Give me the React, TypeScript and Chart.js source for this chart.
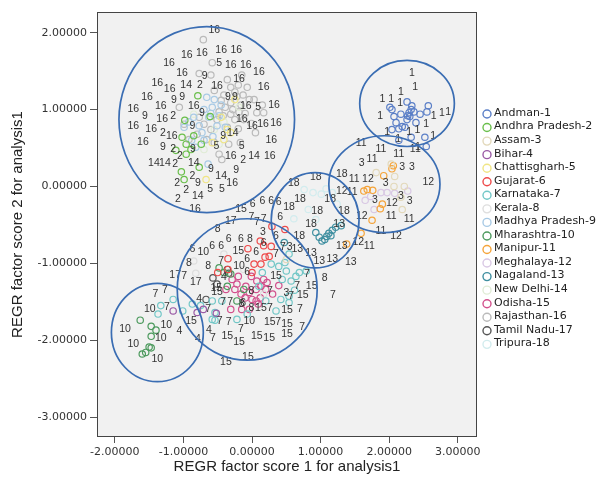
import React, { useEffect, useRef } from "react";
import { Chart, registerables } from "chart.js";

Chart.register(...registerables);

type P = [number, number];

const stateNames = [
  "Andman-1", "Andhra Pradesh-2", "Assam-3", "Bihar-4", "Chattisgharh-5", "Gujarat-6",
  "Karnataka-7", "Kerala-8", "Madhya Pradesh-9", "Mharashtra-10", "Manipur-11", "Meghalaya-12",
  "Nagaland-13", "New Delhi-14", "Odisha-15", "Rajasthan-16", "Tamil Nadu-17", "Tripura-18",
];
const stateCodes = ["1", "2", "3", "4", "5", "6", "7", "8", "9", "10", "11", "12", "13", "14", "15", "16", "17", "18"];
const stateColors = [
  "#5b7fc7", "#6abf4b", "#e3d9bb", "#9a5aa5", "#f0e585", "#ee4a4a",
  "#72c7c7", "#dedede", "#a8cae5", "#4d9a5e", "#f5a43a", "#d9c8e4",
  "#3f8fa0", "#e0ecd6", "#d2508c", "#bababa", "#555555", "#d2ecee",
];

const andmanPts: P[] = [[2.01, 1.03], [2.04, 1.0], [2.26, 1.1], [2.33, 1.05], [2.57, 1.05], [2.55, 0.97], [2.45, 0.94], [2.29, 0.96], [2.3, 0.91], [2.17, 0.94], [2.07, 0.91], [2.1, 0.83], [2.19, 0.78], [2.23, 0.77], [2.04, 0.74], [2.14, 0.75], [2.39, 0.83], [2.32, 0.64], [2.14, 0.6], [2.52, 0.64], [2.26, 0.87], [2.36, 0.97], [2.54, 0.52], [2.32, 1.0], [2.27, 0.92]];
const andmanLbl: P[] = [[2.33, 1.48], [2.17, 1.23], [2.38, 1.29], [1.9, 1.14], [2.03, 1.14], [2.16, 1.08], [1.87, 0.91], [2.65, 0.92], [2.77, 0.95], [2.86, 0.97], [2.54, 0.81], [2.41, 0.73], [2.29, 0.71], [2.64, 0.65], [1.97, 0.71], [2.13, 0.61], [2.42, 0.51]];

const andhraPts: P[] = [[-0.79, 1.18], [-0.98, 0.86], [-1.02, 0.64], [-0.96, 0.55], [-1.11, 0.47], [-0.89, 0.48], [-0.96, 0.42], [-1.03, 0.19], [-0.99, 0.09], [-0.77, 0.25], [-0.85, 0.66], [-0.74, 0.55], [-0.61, 0.91]];
const andhraLbl: P[] = [[-0.76, 1.32], [-1.15, 0.91], [-1.3, 0.7], [-1.15, 0.49], [-1.05, 0.39], [-1.12, 0.29], [-0.13, 0.34], [-0.87, 0.14], [-1.09, 0.05], [-0.96, -0.05], [-1.08, -0.17]];

const assamPts: P[] = [[2.03, 0.29], [1.81, 0.18], [2.08, 0.13], [2.07, 0.0], [2.22, 0.0], [2.19, -0.3], [2.17, -0.14], [0.5, -0.95]];
const assamLbl: P[] = [[1.6, 0.31], [2.19, 0.25], [2.33, 0.25], [1.95, 0.05], [1.79, -0.18], [2.17, -0.13], [2.3, -0.19], [0.16, -0.6], [0.55, -0.79], [0.5, -1.39]];

const biharPts: P[] = [[-1.15, -1.62], [-0.8, -1.64], [-0.52, -1.65], [-0.71, -1.6]];
const biharLbl: P[] = [[-0.41, -1.18], [-0.77, -1.47], [-1.06, -1.88], [-0.63, -1.87], [-0.79, -1.99]];

const chattisgarhPts: P[] = [[-0.67, 0.09], [-0.45, 0.9], [-0.36, 0.74], [-0.41, 0.61], [-0.58, 0.57], [-0.25, 1.13], [-0.31, 0.7]];
const chattisgarhLbl: P[] = [[-0.48, 1.6], [0.09, 1.03], [-0.52, 0.52], [-0.15, 0.53], [-0.61, -0.04], [-0.44, -0.04]];

const gujaratPts: P[] = [[0.29, -0.52], [0.48, -0.56], [0.12, -0.71], [0.17, -0.77], [0.28, -0.78], [-0.06, -0.81], [0.25, -0.91], [0.19, -0.92], [-0.35, -0.94], [0.03, -1.01], [0.13, -1.01], [0.0, -1.12], [-0.5, -1.12], [-0.35, -1.08]];
const gujaratLbl: P[] = [[0.01, -0.23], [0.15, -0.19], [0.28, -0.19], [0.39, -0.21], [0.41, -0.4], [0.35, -0.64], [-0.34, -0.68], [-0.16, -0.68], [0.17, -0.74], [-0.58, -0.78], [-0.45, -0.77], [-0.07, -0.94], [0.06, -0.86], [-0.07, -1.12], [-0.13, -1.52], [-0.87, -0.82]];

const karnatakaPts: P[] = [[0.28, -1.01], [0.39, -1.04], [0.5, -1.1], [0.15, -1.12], [0.44, -1.21], [0.57, -1.23], [0.64, -1.17], [0.69, -1.12], [0.79, -1.1], [0.54, -1.43], [0.54, -1.51], [0.42, -1.47], [0.35, -1.62], [0.2, -1.49], [-0.44, -1.49], [-0.54, -1.64], [-0.58, -1.73], [-0.22, -1.73], [-0.07, -1.66], [-1.33, -1.55], [-1.37, -1.66], [-1.15, -1.47], [-1.01, -1.62], [-0.87, -1.53], [-0.58, -1.49], [-0.54, -1.74], [0.48, -0.99], [0.54, -0.88], [0.1, -1.3], [-0.75, -1.55], [0.62, -1.35]];
const karnatakaLbl: P[] = [[-0.01, -0.4], [0.07, -0.47], [0.17, -0.42], [-0.45, -0.97], [-0.99, -1.17], [0.26, -1.36], [0.57, -1.43], [0.66, -1.3], [-0.64, -1.6], [-0.42, -1.51], [-0.32, -1.51], [0.26, -1.58], [0.7, -1.6], [-0.47, -1.75], [-0.34, -1.77], [0.38, -1.77], [-0.57, -1.97], [-0.16, -1.86], [-1.41, -1.4], [-1.27, -1.35], [-1.24, -1.57], [0.45, -0.79], [0.8, -1.14], [0.73, -1.83], [0.35, -0.88], [1.18, -1.42]];

const keralaPts: P[] = [[-0.82, -1.13], [-0.41, -0.88], [-0.12, -1.08], [-0.85, -0.97], [0.17, -1.4]];
const keralaLbl: P[] = [[-0.5, -0.56], [-0.03, -0.68], [-0.92, -1.0], [-0.64, -1.04], [-0.01, -1.36], [-0.15, -1.53], [-0.01, -1.58], [1.06, -1.19]];

const mpPts: P[] = [[-0.66, 1.16], [-0.55, 1.13], [-0.7, 1.0], [-0.58, 1.03], [-0.45, 1.06], [-0.85, 0.9], [-0.92, 0.84], [-0.77, 0.79], [-0.63, 0.9], [-0.51, 0.79], [-0.39, 0.77], [-0.73, 0.7], [-0.99, 0.77], [-0.82, 0.51], [-0.64, 0.29], [-0.57, 0.65], [-0.6, 0.95], [-0.48, 0.92], [-0.7, 0.6], [-0.88, 0.6]];
const mpLbl: P[] = [[-0.69, 1.44], [-1.14, 1.12], [-1.02, 1.16], [-0.35, 1.16], [-0.25, 1.16], [-0.73, 0.95], [-1.56, 0.91], [-0.87, 0.78], [-0.42, 0.65], [-1.3, 0.51], [-0.86, 0.49], [-0.6, 0.23], [-0.23, 0.21], [-0.79, 0.05]];

const maharashtraPts: P[] = [[-1.63, -1.74], [-1.47, -1.82], [-1.4, -1.87], [-1.47, -1.95], [-1.5, -2.09], [-1.47, -2.1], [-1.6, -2.18], [-1.55, -2.16], [-0.41, -1.12], [-0.31, -1.14], [-0.36, -1.3], [-0.12, -1.34], [-0.22, -1.49], [-0.48, -1.06]];
const maharashtraLbl: P[] = [[-0.71, -0.86], [-0.19, -1.04], [-1.49, -1.6], [-1.25, -1.81], [-1.85, -1.86], [-1.33, -1.97], [-1.73, -2.05], [-1.38, -2.25], [-0.04, -1.75]];

const manipurPts: P[] = [[2.06, 0.27], [2.04, 0.23], [1.92, 0.14], [1.63, -0.06], [1.68, -0.04], [1.76, -0.05], [1.9, -0.23], [1.87, -0.29], [1.75, -0.44], [1.59, -0.61], [1.38, -0.75]];
const manipurLbl: P[] = [[1.59, 0.56], [1.88, 0.49], [2.14, 0.42], [2.38, 0.48], [1.75, 0.35], [1.49, 0.09], [2.03, -0.39], [2.29, -0.42], [1.88, -0.58], [1.71, -0.78], [1.46, -0.08]];

const meghalayaPts: P[] = [[1.88, -0.08], [1.97, -0.08], [2.08, -0.09], [2.27, -0.06], [1.65, -0.18], [1.78, -0.3], [1.73, -0.13]];
const meghalayaLbl: P[] = [[1.69, 0.1], [2.57, 0.06], [1.31, -0.06], [2.04, -0.22], [1.6, -0.38], [2.1, -0.64], [1.55, -0.73]];

const nagalandPts: P[] = [[0.93, -0.6], [0.98, -0.66], [1.02, -0.71], [1.09, -0.65], [1.17, -0.57], [1.15, -0.64], [1.06, -0.69], [0.47, -0.73], [1.12, -0.61], [1.22, -0.53], [1.3, -0.51]];
const nagalandLbl: P[] = [[1.27, -0.49], [0.66, -0.82], [0.86, -0.87], [1.31, -0.77], [0.98, -0.97], [1.17, -0.95], [1.44, -0.99]];

const delhiPts: P[] = [[-0.85, 0.94], [-0.55, 0.74], [-0.41, 0.84], [-0.19, 1.03], [-0.7, 0.48], [-0.48, 0.55]];
const delhiLbl: P[] = [[-0.96, 1.32], [-0.28, 0.69], [-1.43, 0.3], [-1.27, 0.3], [-0.85, 0.31], [0.03, 0.39], [-0.45, 0.14], [-0.79, -0.12]];

const odishaPts: P[] = [[-0.2, -1.17], [-0.01, -1.17], [0.07, -1.23], [0.13, -1.3], [0.06, -1.34], [-0.04, -1.38], [-0.16, -1.4], [-0.22, -1.27], [-0.29, -1.21], [0.17, -1.21], [0.22, -1.25], [0.0, -1.47], [0.06, -1.49], [-0.04, -1.6], [0.09, -1.53], [-0.15, -1.6], [-0.25, -1.34], [-0.38, -1.34], [0.39, -1.29], [-0.31, -1.6], [0.2, -1.34], [-0.09, -1.3], [0.12, -1.45], [-0.1, -1.45], [0.3, -1.4]];
const odishaLbl: P[] = [[-0.16, -0.3], [-0.2, -0.84], [0.35, -1.17], [0.74, -1.42], [0.87, -1.3], [-0.51, -1.38], [-0.89, -1.75], [0.13, -1.58], [0.51, -1.61], [0.26, -1.77], [0.51, -1.79], [-0.36, -1.95], [-0.19, -2.03], [0.07, -1.95], [0.25, -1.97], [0.51, -1.92], [-0.52, -1.32], [-0.38, -2.29], [-0.06, -2.22]];

const rajasthanPts: P[] = [[-0.71, 1.91], [-0.58, 1.61], [-0.77, 1.47], [-0.6, 1.45], [-0.36, 1.39], [-0.2, 1.32], [-0.07, 1.29], [-0.22, 1.17], [-0.31, 1.09], [-0.39, 1.03], [-0.13, 1.19], [-0.04, 1.13], [0.07, 0.96], [0.17, 0.96], [-0.19, 0.97], [-0.31, 0.94], [-0.48, 0.97], [-0.51, 0.87], [-0.6, 0.74], [-0.7, 0.81], [-0.8, 0.68], [-0.66, 0.61], [-0.92, 0.61], [-1.06, 1.03], [-0.99, 0.81], [-0.55, 0.57], [-0.34, 0.55], [-0.48, 0.42], [-0.17, 0.57], [0.03, 1.13], [-0.41, 1.19], [-0.12, 0.87], [-0.77, 0.9], [-0.31, 1.29], [-0.25, 1.23], [-0.16, 1.06], [-0.25, 0.87], [-0.36, 0.77], [-0.01, 0.82], [-0.44, 0.35], [0.15, 1.06], [-0.45, 1.12], [-0.28, 1.0], [-0.1, 0.95], [-0.42, 0.92], [-0.2, 0.75], [0.05, 0.7], [-0.55, 1.25], [-0.15, 1.45]];
const rajasthanLbl: P[] = [[-0.55, 2.04], [-0.95, 1.71], [-0.73, 1.74], [-0.45, 1.77], [-0.23, 1.77], [-1.21, 1.61], [-0.31, 1.58], [-0.09, 1.58], [0.1, 1.49], [-1.02, 1.48], [-1.38, 1.34], [-1.2, 1.27], [-0.51, 1.31], [-0.19, 1.4], [0.17, 1.29], [-1.53, 1.16], [-1.73, 1.01], [-1.33, 1.04], [-0.85, 1.04], [-0.09, 1.04], [0.32, 1.06], [-1.31, 0.88], [-0.15, 0.88], [-1.73, 0.78], [-1.47, 0.74], [0.0, 0.78], [0.16, 0.81], [0.35, 0.82], [-1.59, 0.58], [-1.17, 0.65], [0.28, 0.6], [-0.31, 0.39], [0.26, 0.4], [-0.29, 0.05], [-0.83, -0.29]];

const tamilPts: P[] = [[-0.36, -1.08], [-0.34, -1.13], [-0.57, -1.19], [-0.67, -1.47], [-0.51, -1.27]];
const tamilLbl: P[] = [[-0.31, -0.45], [-0.82, -1.25], [-1.12, -1.16]];

const tripuraPts: P[] = [[0.89, -0.08], [1.01, -0.1], [0.82, -0.3], [0.61, -0.42], [1.17, -0.08], [1.08, -0.03], [1.27, -0.47], [0.93, -0.43], [1.24, -0.23], [0.76, -0.04]];
const tripuraLbl: P[] = [[0.93, 0.12], [1.31, 0.16], [0.61, 0.05], [0.7, -0.16], [1.14, -0.17], [0.54, -0.27], [0.95, -0.32], [1.34, -0.32], [0.86, -0.49], [0.69, -0.65]];

const statePoints: P[][] = [andmanPts, andhraPts, assamPts, biharPts, chattisgarhPts, gujaratPts, karnatakaPts, keralaPts, mpPts, maharashtraPts, manipurPts, meghalayaPts, nagalandPts, delhiPts, odishaPts, rajasthanPts, tamilPts, tripuraPts];
const stateLabels: P[][] = [andmanLbl, andhraLbl, assamLbl, biharLbl, chattisgarhLbl, gujaratLbl, karnatakaLbl, keralaLbl, mpLbl, maharashtraLbl, manipurLbl, meghalayaLbl, nagalandLbl, delhiLbl, odishaLbl, rajasthanLbl, tamilLbl, tripuraLbl];

// Cluster ellipses (data units)
const ellipseCx = [-0.66, 2.26, 1.93, 0.92, -0.07, -1.38];
const ellipseCy = [0.87, 1.08, 0.03, -0.44, -1.34, -1.9];
const ellipseRx = [1.28, 0.69, 0.81, 0.64, 1.02, 0.67];
const ellipseRy = [1.21, 0.56, 0.63, 0.62, 0.92, 0.64];

const xTicks = [-2, -1, 0, 1, 2, 3];
const yTicks = [-3, -2, -1, 0, 1, 2];
const xMin = -2.26, xMax = 3.28, yMin = -3.26, yMax = 2.27;

const bgPlugin = {
  id: "plotBg",
  beforeDatasetsDraw(chart: any) {
    const { ctx, chartArea } = chart;
    ctx.save();
    ctx.fillStyle = "#f1f1f1";
    ctx.fillRect(chartArea.left, chartArea.top, chartArea.right - chartArea.left, chartArea.bottom - chartArea.top);
    ctx.restore();
  },
};

const labelPlugin = {
  id: "pointLabels",
  afterDatasetsDraw(chart: any) {
    const { ctx, scales } = chart;
    ctx.save();
    ctx.font = "10.5px 'Liberation Sans', Arial, sans-serif";
    ctx.fillStyle = "#333333";
    ctx.textAlign = "center";
    ctx.textBaseline = "middle";
    chart.data.datasets.forEach((ds: any) => {
      (ds.labelPoints as P[]).forEach((p) => {
        ctx.fillText(ds.code, scales.x.getPixelForValue(p[0]), scales.y.getPixelForValue(p[1]));
      });
    });
    ctx.restore();
  },
};

const ellipsePlugin = {
  id: "ellipses",
  afterDatasetsDraw(chart: any) {
    const { ctx, scales } = chart;
    ctx.save();
    ctx.strokeStyle = "#3a6db3";
    ctx.lineWidth = 1.7;
    ellipseCx.forEach((cx, i) => {
      const px = scales.x.getPixelForValue(cx);
      const py = scales.y.getPixelForValue(ellipseCy[i]);
      const rx = Math.abs(scales.x.getPixelForValue(cx + ellipseRx[i]) - px);
      const ry = Math.abs(scales.y.getPixelForValue(ellipseCy[i] + ellipseRy[i]) - py);
      ctx.beginPath();
      ctx.ellipse(px, py, rx, ry, 0, 0, Math.PI * 2);
      ctx.stroke();
    });
    ctx.restore();
  },
};

const framePlugin = {
  id: "frameLegend",
  afterDraw(chart: any) {
    const { ctx, chartArea } = chart;
    ctx.save();
    ctx.strokeStyle = "#444444";
    ctx.lineWidth = 1;
    ctx.strokeRect(Math.round(chartArea.left) + 0.5, Math.round(chartArea.top) + 0.5, Math.round(chartArea.right - chartArea.left) - 1, Math.round(chartArea.bottom - chartArea.top) - 1);
    // legend
    ctx.font = "11px 'DejaVu Sans', sans-serif";
    ctx.textAlign = "left";
    ctx.textBaseline = "middle";
    chart.data.datasets.forEach((ds: any, i: number) => {
      const y = chartArea.top + 101 + i * 13.55;
      const x = chartArea.right + 10;
      ctx.beginPath();
      ctx.strokeStyle = ds.borderColor;
      ctx.lineWidth = 1.4;
      ctx.arc(x, y + 1, 4, 0, Math.PI * 2);
      ctx.stroke();
      ctx.fillStyle = "#222222";
      ctx.fillText(ds.label, x + 7, y);
    });
    ctx.restore();
  },
};

export default function App() {
  const ref = useRef<HTMLCanvasElement | null>(null);
  useEffect(() => {
    if (!ref.current) return;
    const tickFont = { family: "'DejaVu Sans', sans-serif", size: 11 };
    const titleFont = { family: "'Liberation Sans', Arial, sans-serif", size: 15 };
    const chart = new Chart(ref.current, {
      type: "scatter",
      data: {
        datasets: stateNames.map((name, i) => ({
          label: name,
          code: stateCodes[i],
          labelPoints: stateLabels[i],
          data: statePoints[i].map((p) => ({ x: p[0], y: p[1] })),
          borderColor: stateColors[i],
          backgroundColor: "rgba(0,0,0,0)",
          pointRadius: 3.2,
          pointBorderWidth: 1.2,
          pointStyle: "circle",
        })) as any,
      },
      options: {
        animation: false,
        responsive: false,
        events: [],
        layout: { padding: { left: 0, top: 12, right: 123, bottom: 0 } },
        plugins: { legend: { display: false }, tooltip: { enabled: false } },
        scales: {
          x: {
            type: "linear",
            min: xMin,
            max: xMax,
            afterBuildTicks: (s: any) => { s.ticks = xTicks.map((v) => ({ value: v })); },
            afterFit: (s: any) => { s.height = 48; },
            grid: { drawOnChartArea: false, drawTicks: true, tickLength: 6, color: "#555555" },
            border: { display: false },
            ticks: { font: tickFont, color: "#333333", padding: 3, maxRotation: 0, autoSkip: false, callback: (v: any) => Number(v).toFixed(5) },
            title: { display: true, text: "REGR factor score 1 for analysis1", font: titleFont, color: "#222222", padding: { top: 0, bottom: 9 } },
          },
          y: {
            type: "linear",
            min: yMin,
            max: yMax,
            afterBuildTicks: (s: any) => { s.ticks = yTicks.map((v) => ({ value: v })); },
            afterFit: (s: any) => { s.width = 97; },
            grid: { drawOnChartArea: false, drawTicks: true, tickLength: 7, color: "#555555" },
            border: { display: false },
            ticks: { font: tickFont, color: "#333333", padding: 3, autoSkip: false, callback: (v: any) => Number(v).toFixed(5) },
            title: { display: true, text: "REGR factor score 2 for analysis1", font: titleFont, color: "#222222", padding: { top: 9, bottom: 0 } },
          },
        },
      } as any,
      plugins: [bgPlugin, labelPlugin, ellipsePlugin, framePlugin],
    });
    return () => chart.destroy();
  }, []);
  return (
    <div style={{ position: "absolute", left: 0, top: 0, width: 600, height: 485, background: "#ffffff" }}>
      <canvas ref={ref} width={600} height={485} style={{ display: "block" }} />
    </div>
  );
}
